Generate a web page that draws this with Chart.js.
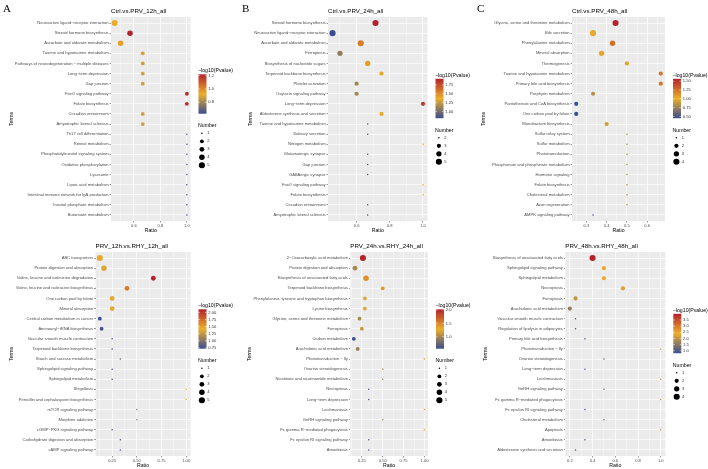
<!DOCTYPE html>
<html>
<head>
<meta charset="utf-8">
<script src="https://cdn.jsdelivr.net/npm/chart.js@4.4.0/dist/chart.umd.min.js"></script>
<style>
html, body { margin: 0; padding: 0; background: #fff; }
#wrap { position: relative; width: 708px; height: 469px; overflow: hidden; }
.pn { position: absolute; }
</style>
</head>
<body>
<div id="wrap"></div>
<script>
// ---- data ----
const termsA = ['Neuroactive ligand−receptor interaction', 'Steroid hormone biosynthesis', 'Ascorbate and aldarate metabolism',
  'Taurine and hypotaurine metabolism', 'Pathways of neurodegeneration − multiple diseases', 'Long−term depression', 'Gap junction',
  'FoxO signaling pathway', 'Folate biosynthesis', 'Circadian entrainment', 'Amyotrophic lateral sclerosis', 'Th17 cell differentiation',
  'Retinol metabolism', 'Phosphatidylinositol signaling system', 'Oxidative phosphorylation', 'Lysosome', 'Lipoic acid metabolism',
  'Intestinal immune network for IgA production', 'Inositol phosphate metabolism', 'Butanoate metabolism'];
const ratioA = [0.455, 0.571, 0.5, 0.667, 0.667, 0.667, 0.667, 1, 1, 0.667, 0.667, 1, 1, 1, 1, 1, 1, 1, 1, 1];
const countA = [5, 4, 4, 2, 2, 2, 2, 2, 2, 2, 2, 1, 1, 1, 1, 1, 1, 1, 1, 1];
const logpA = [0.93, 1.22, 0.96, 0.88, 0.88, 0.88, 0.88, 1.2, 1.2, 0.88, 0.88, 0.63, 0.63, 0.63, 0.63, 0.63, 0.63, 0.63, 0.63, 0.63];

const termsB = ['Steroid hormone biosynthesis', 'Neuroactive ligand−receptor interaction', 'Ascorbate and aldarate metabolism', 'Ferroptosis',
  'Biosynthesis of nucleotide sugars', 'Terpenoid backbone biosynthesis', 'Platelet activation', 'Oxytocin signaling pathway',
  'Long−term depression', 'Aldosterone synthesis and secretion', 'Taurine and hypotaurine metabolism', 'Salivary secretion',
  'Nitrogen metabolism', 'Glutamatergic synapse', 'Gap junction', 'GABAergic synapse', 'FoxO signaling pathway', 'Folate biosynthesis',
  'Circadian entrainment', 'Amyotrophic lateral sclerosis'];
const ratioB = [0.714, 0.455, 0.625, 0.5, 0.667, 0.75, 0.6, 0.6, 1, 0.75, 0.667, 0.667, 1, 0.667, 0.667, 0.667, 1, 1, 0.667, 0.667];
const countB = [5, 5, 5, 4, 4, 3, 3, 3, 3, 3, 2, 2, 2, 2, 2, 2, 2, 2, 2, 2];
const logpB = [1.92, 0.81, 1.56, 1.08, 1.43, 1.39, 1.13, 1.13, 1.84, 1.39, 0.81, 0.81, 1.39, 0.81, 0.81, 0.81, 1.39, 1.39, 0.81, 0.81];

const termsC = ['Glycine, serine and threonine metabolism', 'Bile secretion', 'Phenylalanine metabolism', 'Mineral absorption', 'Thermogenesis',
  'Taurine and hypotaurine metabolism', 'Primary bile acid biosynthesis', 'Porphyrin metabolism', 'Pantothenate and CoA biosynthesis',
  'One carbon pool by folate', 'Monobactam biosynthesis', 'Sulfur relay system', 'Sulfur metabolism', 'Phototransduction',
  'Phosphonate and phosphinate metabolism', 'Hormone signaling', 'Folate biosynthesis', 'Cholesterol metabolism', 'Axon regeneration',
  'AMPK signaling pathway'];
const ratioC = [0.444, 0.333, 0.429, 0.375, 0.5, 0.667, 0.667, 0.333, 0.25, 0.25, 0.4, 0.5, 0.5, 0.5, 0.5, 0.5, 0.5, 0.5, 0.5, 0.333];
const countC = [4, 4, 3, 3, 2, 2, 2, 2, 2, 2, 2, 1, 1, 1, 1, 1, 1, 1, 1, 1];
const logpC = [1.57, 1.03, 1.26, 1.04, 1.06, 1.24, 1.24, 0.84, 0.45, 0.45, 0.93, 0.8, 0.8, 0.8, 0.8, 0.8, 0.8, 0.8, 0.8, 0.45];

const termsD = ['ABC transporters', 'Protein digestion and absorption', 'Valine, leucine and isoleucine degradation',
  'Valine, leucine and isoleucine biosynthesis', 'One carbon pool by folate', 'Mineral absorption', 'Central carbon metabolism in cancer',
  'Aminoacyl−tRNA biosynthesis', 'Vascular smooth muscle contraction', 'Terpenoid backbone biosynthesis', 'Starch and sucrose metabolism',
  'Sphingolipid signaling pathway', 'Sphingolipid metabolism', 'Shigellosis', 'Penicillin and cephalosporin biosynthesis',
  'mTOR signaling pathway', 'Morphine addiction', 'cGMP−PKG signaling pathway', 'Carbohydrate digestion and absorption', 'cAMP signaling pathway'];
const ratioD = [0.125, 0.167, 0.667, 0.4, 0.25, 0.25, 0.125, 0.143, 0.25, 0.25, 0.333, 0.25, 0.25, 1, 1, 0.5, 0.5, 0.25, 0.333, 0.333];
const countD = [5, 4, 3, 3, 3, 3, 2, 2, 1, 1, 1, 1, 1, 1, 1, 1, 1, 1, 1, 1];
const logpD = [1.45, 1.36, 2.11, 1.68, 1.38, 1.38, 0.72, 0.78, 0.72, 0.72, 0.85, 0.72, 0.72, 1.45, 1.45, 1.05, 1.05, 0.72, 0.8, 0.8];

const termsE = ['2−Oxocarboxylic acid metabolism', 'Protein digestion and absorption', 'Biosynthesis of unsaturated fatty acids',
  'Terpenoid backbone biosynthesis', 'Phenylalanine, tyrosine and tryptophan biosynthesis', 'Lysine biosynthesis',
  'Glycine, serine and threonine metabolism', 'Ferroptosis', 'Carbon metabolism', 'Arachidonic acid metabolism', 'Phototransduction − fly',
  'Ovarian steroidogenesis', 'Nicotinate and nicotinamide metabolism', 'Necroptosis', 'Long−term depression', 'Leishmaniasis',
  'GnRH signaling pathway', 'Fc gamma R−mediated phagocytosis', 'Fc epsilon RI signaling pathway', 'Amoebiasis'];
const ratioE = [0.263, 0.167, 0.3, 0.5, 0.286, 0.286, 0.222, 0.25, 0.154, 0.2, 1, 0.5, 0.5, 0.333, 0.333, 1, 0.5, 1, 0.333, 0.333];
const countE = [5, 3, 4, 2, 2, 2, 2, 2, 2, 2, 1, 1, 1, 1, 1, 1, 1, 1, 1, 1];
const logpE = [2.03, 1.0, 1.46, 1.42, 1.24, 1.24, 0.99, 1.14, 0.55, 0.93, 1.4, 0.95, 0.95, 0.6, 0.6, 1.4, 0.95, 1.4, 0.6, 0.6];

const termsF = ['Biosynthesis of unsaturated fatty acids', 'Sphingolipid signaling pathway', 'Sphingolipid metabolism', 'Necroptosis',
  'Ferroptosis', 'Arachidonic acid metabolism', 'Vascular smooth muscle contraction', 'Regulation of lipolysis in adipocytes',
  'Primary bile acid biosynthesis', 'Phototransduction − fly', 'Ovarian steroidogenesis', 'Long−term depression', 'Leishmaniasis',
  'GnRH signaling pathway', 'Fc gamma R−mediated phagocytosis', 'Fc epsilon RI signaling pathway', 'Cholesterol metabolism', 'Apoptosis',
  'Amoebiasis', 'Aldosterone synthesis and secretion'];
const ratioF = [0.4, 0.5, 0.5, 0.667, 0.25, 0.2, 0.25, 0.25, 0.333, 1, 0.5, 0.333, 1, 0.5, 1, 0.333, 0.5, 1, 0.333, 0.25];
const countF = [4, 2, 2, 2, 2, 2, 1, 1, 1, 1, 1, 1, 1, 1, 1, 1, 1, 1, 1, 1];
const logpF = [4.0, 2.45, 2.45, 2.6, 2.0, 1.6, 0.8, 0.8, 0.9, 2.0, 1.2, 0.9, 2.0, 1.2, 2.0, 0.9, 1.2, 2.0, 0.9, 0.8];

// axis and colour bar tick labels
const xTicksA = [0.6, 0.8, 1.0], xTicksB = [0.6, 0.8, 1.0], xTicksC = [0.3, 0.4, 0.5, 0.6];
const xTicksD = [0.25, 0.5, 0.75, 1.0], xTicksE = [0.25, 0.5, 0.75, 1.0], xTicksF = [0.2, 0.4, 0.6, 0.8, 1.0];
const cbTicksA = [0.8, 1.0, 1.2], cbTicksB = [1.0, 1.25, 1.5, 1.75], cbTicksC = [0.5, 0.75, 1.0, 1.25, 1.5];
const cbTicksD = [0.75, 1.0, 1.25, 1.5, 1.75, 2.0], cbTicksE = [1.0, 1.5, 2.0], cbTicksF = [1.0, 1.5, 2.0, 2.5, 3.0, 3.5];

// ---- styling ----
const SANS = "'Liberation Sans', Arial, Helvetica, sans-serif";
const LOW = '#3B4C8F', MID = '#EBAF2B', HIGH = '#B3222B';
const TOP = 17, BOT = 221;

function rgb(h) { return [1, 3, 5].map(i => parseInt(h.substr(i, 2), 16)); }
function colorAt(f) {
  f = Math.max(0, Math.min(1, f));
  const [a, b, t] = f < 0.5 ? [LOW, MID, f * 2] : [MID, HIGH, (f - 0.5) * 2];
  const ca = rgb(a), cb = rgb(b);
  const c = ca.map((v, i) => Math.round(v + (cb[i] - v) * t));
  return 'rgb(' + c.join(',') + ')';
}
// ggplot-like area scale, range 1..6
function radiusFor(n, lo, hi) {
  const t = hi > lo ? (n - lo) / (hi - lo) : 1;
  return 0.3 + 0.46 * (1 + 5 * Math.sqrt(t));
}

const panels = [
  { ox: 0, oy: 0, w: 236, h: 235, letter: 'A', letterX: 3, title: 'Ctrl.vs.PRV_12h_all', terms: termsA, ratio: ratioA, count: countA, logp: logpA,
    xTicks: xTicksA, xDec: 1, cbTicks: cbTicksA, cbDec: 1, L: 111, R: 190.5, termsX: 12 },
  { ox: 236, oy: 0, w: 236, h: 235, letter: 'B', letterX: 6, title: 'Ctrl.vs.PRV_24h_all', terms: termsB, ratio: ratioB, count: countB, logp: logpB,
    xTicks: xTicksB, xDec: 1, cbTicks: cbTicksB, cbDec: 2, L: 92, R: 191.5, termsX: 14.5 },
  { ox: 472, oy: 0, w: 236, h: 235, letter: 'C', letterX: 5, title: 'Ctrl.vs.PRV_48h_all', terms: termsC, ratio: ratioC, count: countC, logp: logpC,
    xTicks: xTicksC, xDec: 1, cbTicks: cbTicksC, cbDec: 2, L: 100, R: 193, termsX: 12 },
  { ox: 0, oy: 235, w: 236, h: 234, letter: '', title: 'PRV_12h.vs.RHY_12h_all', terms: termsD, ratio: ratioD, count: countD, logp: logpD,
    xTicks: xTicksD, xDec: 2, cbTicks: cbTicksD, cbDec: 2, L: 95.5, R: 190.5, termsX: 12 },
  { ox: 236, oy: 235, w: 236, h: 234, letter: '', title: 'PRV_24h.vs.RHY_24h_all', terms: termsE, ratio: ratioE, count: countE, logp: logpE,
    xTicks: xTicksE, xDec: 2, cbTicks: cbTicksE, cbDec: 1, L: 114.3, R: 192, termsX: 14 },
  { ox: 472, oy: 235, w: 236, h: 234, letter: '', title: 'PRV_48h.vs.RHY_48h_all', terms: termsF, ratio: ratioF, count: countF, logp: logpF,
    xTicks: xTicksF, xDec: 1, cbTicks: cbTicksF, cbDec: 1, L: 93.3, R: 193.3, termsX: 14 }
];

function deco(p, vmin, vmax, lo, hi) {
  return {
    id: 'deco',
    beforeDraw(chart) {
      const { ctx, chartArea: a } = chart;
      ctx.save();
      ctx.fillStyle = '#FFFFFF';
      ctx.fillRect(0, 0, chart.width, chart.height);
      ctx.fillStyle = '#EBEBEB';
      ctx.fillRect(a.left, a.top, a.right - a.left, a.bottom - a.top);
      ctx.restore();
    },
    afterDraw(chart) {
      const { ctx, chartArea: a } = chart;
      ctx.save();
      ctx.fillStyle = '#000';
      if (p.letter) {
        ctx.font = "11px 'Liberation Serif', 'Times New Roman', serif";
        ctx.textBaseline = 'alphabetic';
        ctx.textAlign = 'left';
        ctx.fillText(p.letter, p.letterX, 11.5);
      }
      ctx.textBaseline = 'middle';
      ctx.textAlign = 'left';
      ctx.font = '6.2px ' + SANS;
      ctx.fillText(p.title, a.left, 11);

      ctx.font = '5.2px ' + SANS;
      ctx.textAlign = 'center';
      ctx.fillText('Ratio', (a.left + a.right) / 2, a.bottom + 9.8);
      ctx.save();
      ctx.translate(p.termsX, (a.top + a.bottom) / 2);
      ctx.rotate(-Math.PI / 2);
      ctx.fillText('Terms', 0, 0);
      ctx.restore();

      // colour bar
      const rows = hi - lo + 1;
      const sh = (5 - rows) * 4.5;
      const bx = a.right + 8, bw = 8, bt = 74.3 + sh, bb = 113.7 + sh;
      ctx.textAlign = 'left';
      ctx.font = '5.2px ' + SANS;
      ctx.fillText('−log10(Pvalue)', bx - 0.5, 71 + sh);
      const g = ctx.createLinearGradient(0, bb, 0, bt);
      for (let k = 0; k <= 10; k++) g.addColorStop(k / 10, colorAt(k / 10));
      ctx.fillStyle = g;
      ctx.fillRect(bx, bt, bw, bb - bt);
      ctx.font = '4.1px ' + SANS;
      ctx.strokeStyle = '#FFFFFF';
      ctx.lineWidth = 0.5;
      p.cbTicks.forEach(v => {
        const y = bb - (v - vmin) / (vmax - vmin) * (bb - bt);
        ctx.beginPath();
        ctx.moveTo(bx, y); ctx.lineTo(bx + 1.6, y);
        ctx.moveTo(bx + bw - 1.6, y); ctx.lineTo(bx + bw, y);
        ctx.stroke();
        ctx.fillStyle = '#333';
        ctx.fillText(v.toFixed(p.cbDec), bx + bw + 1.8, y);
      });

      // size legend
      ctx.fillStyle = '#000';
      ctx.font = '5.2px ' + SANS;
      ctx.fillText('Number', bx - 0.5, 125.7 + sh);
      ctx.font = '4.1px ' + SANS;
      for (let k = lo; k <= hi; k++) {
        const y = 133.3 + sh + (k - lo) * 8;
        ctx.fillStyle = '#000';
        ctx.beginPath();
        ctx.arc(bx + 3.4, y, radiusFor(k, lo, hi), 0, Math.PI * 2);
        ctx.fill();
        ctx.fillStyle = '#333';
        ctx.fillText(String(k), bx + 8.7, y);
      }
      ctx.restore();
    }
  };
}

const wrap = document.getElementById('wrap');

panels.forEach(p => {
  const cv = document.createElement('canvas');
  cv.width = p.w; cv.height = p.h;
  cv.className = 'pn';
  cv.style.left = p.ox + 'px';
  cv.style.top = p.oy + 'px';
  wrap.appendChild(cv);

  const lo = Math.min(...p.count), hi = Math.max(...p.count);
  const vmin = Math.min(...p.logp), vmax = Math.max(...p.logp);
  const rmin = Math.min(...p.ratio), rmax = Math.max(...p.ratio), span = rmax - rmin;
  const xmin = rmin - 0.05 * span, xmax = rmax + 0.05 * span;
  const n = p.terms.length;

  const pts = p.terms.map((t, i) => ({ x: p.ratio[i], y: i + 1, r: radiusFor(p.count[i], lo, hi) }));
  const cols = p.logp.map(v => colorAt((v - vmin) / (vmax - vmin)));

  // major + minor x breaks
  const step = p.xTicks[1] - p.xTicks[0];
  const xt = p.xTicks.map(v => ({ value: v, lab: v.toFixed(p.xDec) }));
  [p.xTicks[0] - step / 2, ...p.xTicks.map(v => v + step / 2)].forEach(v => {
    if (v > xmin && v < xmax) xt.push({ value: v, lab: '' });
  });
  xt.sort((a, b) => a.value - b.value);

  new Chart(cv, {
    type: 'bubble',
    data: {
      datasets: [{
        data: pts,
        backgroundColor: cols,
        borderWidth: 0,
        hoverBorderWidth: 0,
        hoverRadius: 0
      }]
    },
    options: {
      responsive: false,
      animation: false,
      devicePixelRatio: 1,
      events: [],
      layout: { padding: { left: 0, top: TOP, right: p.w - p.R, bottom: 0 } },
      plugins: { legend: { display: false }, tooltip: { enabled: false } },
      scales: {
        x: {
          type: 'linear', min: xmin, max: xmax, bounds: 'data',
          afterBuildTicks: s => { s.ticks = xt.map(t => ({ ...t })); },
          afterFit: s => { s.height = p.h - BOT; },
          ticks: {
            autoSkip: false, maxRotation: 0, minRotation: 0, padding: 1, color: '#4D4D4D',
            font: { family: SANS, size: 4.1 },
            callback: (v, i, t) => t[i].lab
          },
          grid: {
            color: '#FFFFFF',
            lineWidth: c => (c.tick && c.tick.lab ? 0.7 : 0.35),
            drawTicks: true, tickLength: 1.4, tickWidth: 0.5,
            tickColor: c => (c.tick && c.tick.lab ? '#333333' : 'rgba(0,0,0,0)')
          },
          border: { display: false }
        },
        y: {
          type: 'linear', min: 0.4, max: n + 0.6, reverse: true, bounds: 'data',
          afterBuildTicks: s => { s.ticks = p.terms.map((t, i) => ({ value: i + 1 })); },
          afterFit: s => { s.width = p.L; },
          ticks: {
            autoSkip: false, padding: 1, color: '#4D4D4D',
            font: { family: SANS, size: 4.1 },
            callback: v => p.terms[v - 1]
          },
          grid: { color: '#FFFFFF', lineWidth: 0.7, drawTicks: true, tickLength: 1.4, tickWidth: 0.5, tickColor: '#333333' },
          border: { display: false }
        }
      }
    },
    plugins: [deco(p, vmin, vmax, lo, hi)]
  });
});
</script>
</body>
</html>
